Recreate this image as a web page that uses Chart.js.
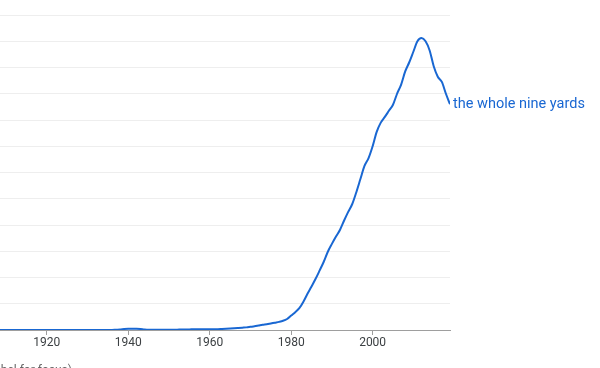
<!DOCTYPE html>
<html>
<head>
<meta charset="utf-8">
<script src="https://cdn.jsdelivr.net/npm/chart.js@4/dist/chart.umd.min.js"></script>
<style>
  html, body { margin: 0; padding: 0; background: #fff; overflow: hidden; }
  #wrap { position: relative; width: 600px; height: 368px; }
  #note { position: absolute; right: 528px; top: 363px; font: 12px Roboto, sans-serif; color: #666; white-space: nowrap; }
</style>
</head>
<body>
<div id="wrap">
  <canvas id="c" width="600" height="368"></canvas>
  <div id="note">(click on line/label for focus)</div>
</div>
<script>
const seriesName = "the whole nine yards";
const years = [];
for (let y = 1905; y <= 2019; y++) years.push(y);
const values = [
  // 1905-1936
  0,0,0,0,0,0,0,0,0,0, 0,0,0,0,0,0,0,0,0,0, 0,0,0,0,0,0,0,0,0,0, 0,0,
  // 1937-1946
  0.01,0.02,0.04,0.05,0.05,0.05,0.04,0.02,0.01,0.01,
  // 1947-1956
  0.01,0.01,0.01,0.01,0.01,0.01,0.02,0.02,0.02,0.03,
  // 1957-1966
  0.03,0.03,0.03,0.03,0.03,0.03,0.04,0.05,0.06,0.07,
  // 1967-1976
  0.08,0.09,0.10,0.12,0.14,0.17,0.20,0.22,0.25,0.28,
  // 1977-1986
  0.31,0.35,0.42,0.55,0.68,0.83,1.08,1.38,1.66,1.95,
  // 1987-1996
  2.27,2.60,2.98,3.28,3.56,3.82,4.17,4.50,4.80,5.25,
  // 1997-2006
  5.75,6.25,6.55,7.00,7.55,7.90,8.12,8.35,8.58,9.00,
  // 2007-2016
  9.35,9.85,10.20,10.60,11.00,11.12,11.00,10.65,10.05,9.65,
  // 2017-2019
  9.45,9.00,8.60
];
const xTicks = [1920, 1940, 1960, 1980, 2000];

const points = years.map((yr, i) => ({ x: yr, y: values[i] }));

const endLabel = {
  id: 'endLabel',
  afterDatasetsDraw(chart) {
    const meta = chart.getDatasetMeta(0);
    const last = meta.data[meta.data.length - 1];
    const ctx = chart.ctx;
    ctx.save();
    ctx.font = '14.5px Roboto, sans-serif';
    ctx.fillStyle = '#1967d2';
    ctx.textBaseline = 'middle';
    ctx.textAlign = 'left';
    ctx.fillText(seriesName, last.x + 3, last.y);
    ctx.restore();
  }
};

new Chart(document.getElementById('c'), {
  type: 'line',
  data: {
    datasets: [{
      label: seriesName,
      data: points,
      borderColor: '#1967d2',
      borderWidth: 2,
      pointRadius: 0,
      tension: 0.4,
      cubicInterpolationMode: 'monotone',
      fill: false
    }]
  },
  options: {
    responsive: false,
    animation: false,
    layout: { padding: { top: 15, right: 150, left: 0, bottom: 0 } },
    plugins: { legend: { display: false }, tooltip: { enabled: false } },
    scales: {
      x: {
        type: 'linear',
        min: 1908.5,
        max: 2019,
        afterBuildTicks(scale) { scale.ticks = xTicks.map(v => ({ value: v })); },
        afterFit(scale) { scale.height = 38; },
        ticks: {
          autoSkip: false,
          maxRotation: 0,
          padding: 1,
          color: '#3c4043',
          font: { family: 'Roboto', size: 12 },
          callback: v => String(v)
        },
        grid: { drawOnChartArea: false, drawTicks: true, tickLength: 5, color: '#9e9e9e' },
        border: { display: true, color: '#9e9e9e', width: 1 }
      },
      y: {
        min: 0,
        max: 12,
        afterFit(scale) { scale.width = 0; },
        ticks: { display: false, stepSize: 1 },
        grid: { color: '#eeeeee', drawTicks: false },
        border: { display: false }
      }
    }
  },
  plugins: [endLabel]
});
</script>
</body>
</html>
